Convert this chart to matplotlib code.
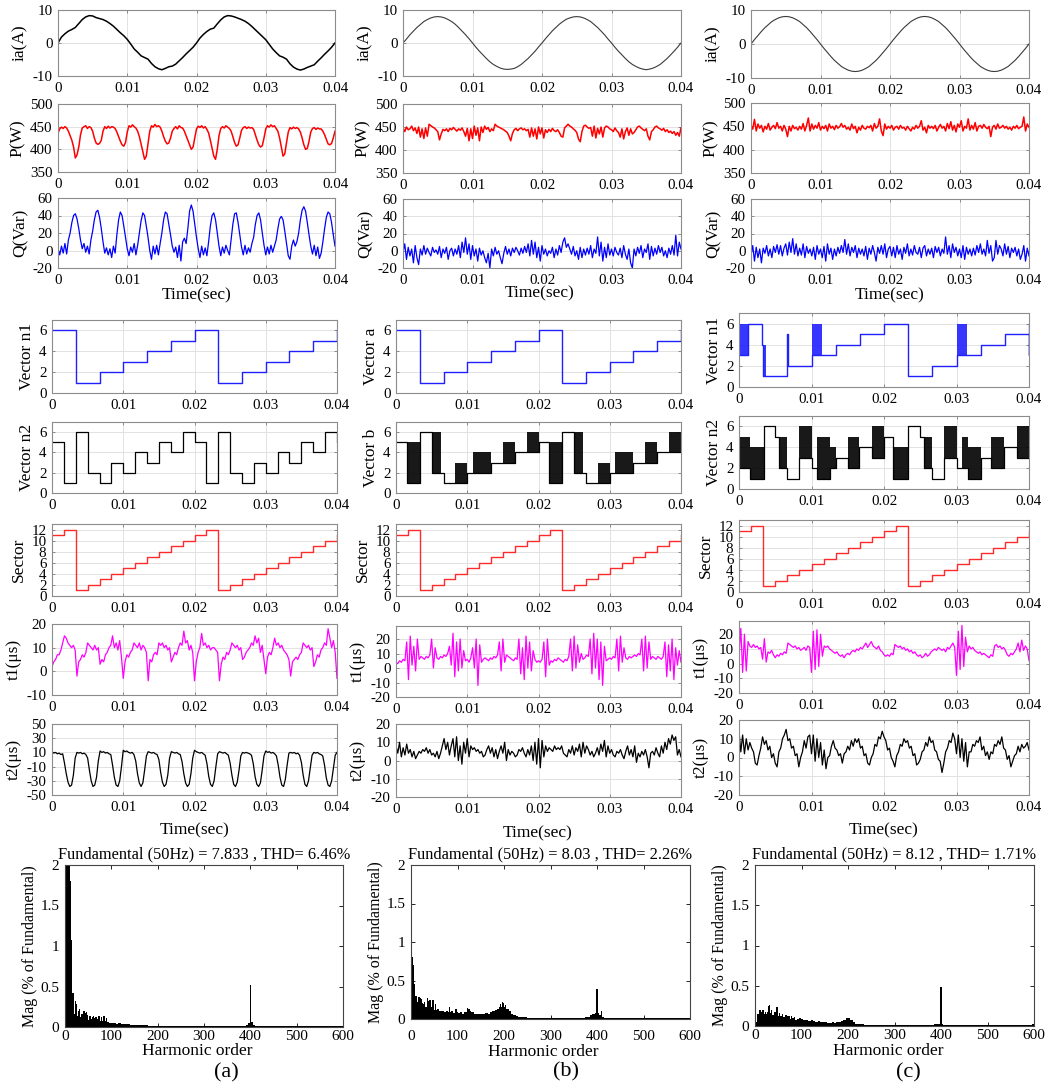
import numpy as np
import matplotlib
matplotlib.use("Agg")
import matplotlib.pyplot as plt

plt.rcParams["font.family"] = ["Liberation Serif", "DejaVu Serif"]
plt.rcParams["axes.unicode_minus"] = False

# ======================= DATA =======================
# phase current ia (A), sampled every 0.5 ms
ia_a = [0, 1.8, 2.8, 3.6, 4.1, 4.7, 5.9, 7.1, 7.9, 8.3, 8.2, 7.7, 7.4, 7.1, 6.6, 5.9, 5.1, 4.1, 3.1, 2.2,
        1.1, -0.3, -1.8, -2.8, -3.9, -4.4, -4.9, -6.2, -7.2, -7.8, -8.1, -7.7, -7.2, -7.0, -6.4, -5.4, -4.4, -3.3, -2.3, -1.3,
        0.0, 1.5, 2.6, 3.5, 4.2, 4.5, 5.8, 7.0, 7.9, 8.3, 8.2, 7.9, 7.5, 7.1, 6.6, 5.9, 5.0, 4.0, 3.0, 2.0,
        1.0, -0.4, -1.8, -2.9, -3.9, -4.3, -4.9, -6.3, -7.3, -7.9, -8.2, -7.9, -7.4, -7.0, -6.6, -5.5, -4.5, -3.4, -2.4, -1.3,
        0.0]
ia_b = [0, 1.2, 2.5, 3.6, 4.7, 5.6, 6.5, 7.1, 7.6, 7.9, 8.0, 7.9, 7.6, 7.1, 6.5, 5.7, 4.7, 3.6, 2.5, 1.3,
        0.0, -1.3, -2.5, -3.6, -4.7, -5.7, -6.5, -7.1, -7.6, -7.9, -8.0, -7.9, -7.7, -7.2, -6.5, -5.6, -4.7, -3.6, -2.5, -1.2,
        0.0, 1.3, 2.5, 3.7, 4.7, 5.7, 6.5, 7.2, 7.6, 7.9, 8.0, 7.9, 7.6, 7.1, 6.5, 5.6, 4.7, 3.6, 2.5, 1.2,
        0.0, -1.3, -2.5, -3.6, -4.7, -5.7, -6.5, -7.1, -7.6, -7.9, -8.1, -7.9, -7.6, -7.1, -6.5, -5.6, -4.7, -3.6, -2.5, -1.3,
        0.0]
ia_c = [0, 1.3, 2.5, 3.7, 4.8, 5.7, 6.6, 7.2, 7.7, 8.0, 8.1, 8.0, 7.7, 7.2, 6.6, 5.7, 4.8, 3.7, 2.5, 1.3,
        0.0, -1.3, -2.5, -3.7, -4.8, -5.7, -6.6, -7.2, -7.7, -8.0, -8.1, -8.0, -7.7, -7.2, -6.6, -5.7, -4.8, -3.7, -2.5, -1.3,
        0.0, 1.3, 2.5, 3.7, 4.8, 5.7, 6.6, 7.2, 7.7, 8.0, 8.1, 8.0, 7.7, 7.2, 6.6, 5.7, 4.8, 3.7, 2.5, 1.3,
        0.0, -1.3, -2.5, -3.7, -4.8, -5.7, -6.6, -7.2, -7.7, -8.0, -8.1, -8.0, -7.7, -7.2, -6.6, -5.7, -4.8, -3.7, -2.5, -1.3,
        0.0]

# active power P (W), every 0.25 ms
p_a = [436, 445, 449, 446, 450, 447, 440, 430, 420, 405, 381, 388, 405, 432, 447, 450, 452, 446, 450, 448,
       440, 425, 414, 411, 413, 420, 440, 450, 446, 451, 447, 450, 449, 446, 438, 428, 418, 410, 407, 415,
       438, 452, 449, 454, 450, 447, 440, 428, 412, 395, 378, 385, 412, 440, 452, 449, 455, 450, 452, 449,
       440, 428, 418, 412, 414, 425, 440, 446, 450, 445, 452, 448, 447, 440, 430, 420, 410, 400, 405, 425,
       445, 451, 448, 452, 447, 450, 444, 436, 420, 402, 385, 378, 400, 430, 446, 450, 447, 452, 449, 446,
       440, 428, 415, 407, 410, 425, 442, 448, 450, 446, 449, 447, 448, 444, 432, 420, 410, 405, 408, 425,
       445, 452, 449, 454, 450, 452, 446, 440, 425, 405, 385, 390, 415, 438, 448, 445, 449, 446, 448, 445,
       438, 425, 410, 400, 402, 418, 438, 446, 448, 444, 447, 445, 445, 440, 432, 422, 412, 410, 413, 425,
       440]
p_b = [448, 440, 450, 444, 446, 452, 442, 448, 436, 450, 428, 446, 425, 448, 430, 456, 453, 450, 448, 444,
       440, 422, 435, 445, 442, 446, 440, 447, 444, 449, 445, 441, 446, 443, 448, 440, 430, 447, 420, 446,
       425, 452, 432, 448, 420, 450, 438, 452, 445, 449, 440, 446, 442, 456, 452, 450, 448, 446, 444, 441,
       438, 430, 420, 436, 444, 447, 442, 446, 448, 444, 446, 442, 445, 428, 448, 430, 446, 424, 450, 435,
       448, 426, 444, 438, 445, 440, 447, 442, 440, 444, 438, 430, 428, 448, 452, 456, 452, 450, 446, 443,
       438, 424, 418, 440, 452, 454, 450, 447, 449, 430, 452, 426, 447, 435, 450, 428, 448, 452, 450, 446,
       444, 440, 448, 442, 438, 428, 446, 424, 440, 448, 432, 446, 435, 438, 444, 450, 452, 448, 445, 442,
       446, 430, 422, 440, 444, 450, 452, 448, 446, 443, 447, 440, 444, 438, 441, 436, 440, 432, 438, 430,
       448]
p_c = [452, 444, 465, 440, 455, 446, 452, 438, 450, 444, 456, 442, 448, 452, 445, 458, 446, 450, 440, 452,
       444, 428, 450, 440, 452, 445, 448, 442, 450, 444, 456, 440, 452, 468, 440, 455, 444, 452, 446, 458,
       442, 450, 445, 452, 440, 455, 446, 450, 443, 452, 446, 449, 456, 448, 452, 444, 448, 442, 455, 445,
       450, 436, 448, 442, 452, 446, 444, 450, 447, 452, 440, 456, 446, 450, 466, 440, 430, 455, 444, 450,
       446, 452, 442, 448, 450, 444, 452, 446, 448, 442, 450, 445, 440, 448, 444, 452, 446, 450, 462, 442,
       448, 436, 452, 446, 450, 445, 452, 440, 448, 454, 446, 450, 440, 456, 445, 460, 442, 452, 438, 455,
       448, 462, 440, 450, 446, 466, 442, 452, 444, 458, 440, 450, 452, 446, 454, 448, 445, 450, 428, 448,
       452, 444, 455, 446, 448, 452, 446, 450, 444, 448, 442, 450, 446, 452, 445, 448, 450, 470, 440, 455,
       448]

# reactive power Q (Var), every 0.25 ms
q_a = [2, -5, 5, -3, 8, -4, 12, 20, 32, 40, 42, 36, 25, 12, 2, 8, -2, 5, -4, 12,
       22, 35, 44, 46, 38, 25, 10, -3, 3, -5, 2, -8, 5, -3, 18, 35, 44, 40, 28, 15,
       2, -6, 4, -2, 8, -5, 6, 20, 34, 43, 40, 28, 15, 0, -10, 5, -4, 6, -5, 8,
       20, 35, 44, 42, 30, 18, 5, -2, 4, -8, 6, -12, 10, 14, 8, 25, 45, 52, 45, 30,
       15, 2, -8, 5, -5, 3, -6, 10, 28, 40, 43, 35, 20, 5, -6, 4, -3, 6, 0, -5,
       12, 30, 42, 43, 32, 18, 4, -5, 6, -4, 3, -2, 8, 15, 30, 40, 43, 35, 20, 6,
       -5, 4, -4, 6, -2, 5, 12, 25, 36, 39, 35, 22, 8, -6, -10, 5, 12, 5, 10, 20,
       35, 46, 50, 45, 32, 18, 5, -4, 6, -6, 4, -9, -3, 10, 25, 38, 44, 42, 32, 18,
       5]
q_b = [-2, 8, -10, 4, -6, 2, -14, 6, -8, -16, 2, -5, 6, -4, 3, -2, -6, 4, -2, 1,
       -4, 5, -8, 2, -3, 4, -10, 0, 3, -6, 2, -4, 6, -8, 10, -2, 15, -4, 8, -10,
       6, -6, 2, -12, 3, -5, 0, -8, -14, -3, -20, 2, -6, 4, -4, 0, -8, -15, -3, 5,
       -4, 2, -6, 3, -2, 4, 0, -5, 3, -3, 5, -2, 8, -6, 12, -4, 10, -8, 4, -12,
       6, -4, 2, -6, 0, -3, 4, -8, 2, -5, 6, -2, 10, 15, 4, 8, 2, -4, 5, -6,
       0, -10, 4, -8, 2, -5, 3, -4, 6, -8, 2, -3, 16, -6, 10, -12, 4, -8, 8, -5,
       2, -6, 4, -2, -5, 3, -8, 6, -4, -10, 2, -14, -20, 2, -6, 4, -3, 6, -8, 2,
       -2, 8, -10, 5, -6, 3, -4, 6, -2, 4, -6, 0, -8, 3, -4, 6, -5, 18, -6, 10,
       2]
q_c = [-5, 6, -12, 4, -8, 2, -14, 3, -3, 6, -6, 2, -8, 5, -2, 7, -4, 6, -6, 3,
       8, -5, 10, -2, 14, -4, 8, -6, 3, -5, 8, -8, 5, -3, 2, -6, 4, -10, 6, -4,
       2, -8, 5, -12, 8, -4, 3, -10, 2, -6, 4, -3, 6, -2, 13, -4, 8, -6, 4, -2,
       6, -8, 3, -4, 2, -6, 5, -10, 3, -4, 6, -2, -12, 4, -3, 6, -4, 8, -8, 2,
       5, -6, 4, -8, 6, -4, 2, -10, 4, -3, 8, -6, 2, -5, 6, -2, -4, 4, -8, 3,
       6, -6, 2, -4, 3, -8, 5, -2, 4, -6, 2, -3, 16, -4, 6, -8, 8, -2, 4, -6,
       2, -8, 6, -10, 4, -4, 2, -6, 3, -5, 6, -2, 8, -4, 2, -6, 12, -3, 6, -12,
       -8, 12, -4, 6, 2, -6, 8, -4, 5, -8, 3, -2, 4, -6, 2, -10, -4, 6, -12, 3,
       -6]

# switching vectors / sectors: segment edges (ms), lower and upper level of each segment
vec1_a_ms = [0, 3.33, 6.67, 10, 13.33, 16.67, 20, 23.33, 26.67, 30, 33.33, 36.67, 40, 40]
vec1_a_lo = [6, 1, 2, 3, 4, 5, 6, 1, 2, 3, 4, 5, 6]
vec1_a_hi = [6, 1, 2, 3, 4, 5, 6, 1, 2, 3, 4, 5, 6]
vec2_a_ms = [0, 1.67, 3.33, 5, 6.67, 8.33, 10, 11.67, 13.33, 15, 16.67, 18.33, 20,
             21.67, 23.33, 25, 26.67, 28.33, 30, 31.67, 33.33, 35, 36.67, 38.33, 40, 40]
vec2_a_lo = [5, 1, 6, 2, 1, 3, 2, 4, 3, 5, 4, 6, 5, 1, 6, 2, 1, 3, 2, 4, 3, 5, 4, 6, 5]
vec2_a_hi = [5, 1, 6, 2, 1, 3, 2, 4, 3, 5, 4, 6, 5, 1, 6, 2, 1, 3, 2, 4, 3, 5, 4, 6, 5]

vec1_b_ms = [0, 3.33, 6.67, 10, 13.33, 16.67, 20, 23.33, 26.67, 30, 33.33, 36.67, 40, 40]
vec1_b_lo = [6, 1, 2, 3, 4, 5, 6, 1, 2, 3, 4, 5, 6]
vec1_b_hi = [6, 1, 2, 3, 4, 5, 6, 1, 2, 3, 4, 5, 6]
vec2_b_ms = [0, 1.5, 3.33, 5, 6.3, 6.67, 8.33, 10, 10.8, 13.33, 15, 16.67, 18.33, 20,
             21.5, 23.33, 25, 26.3, 26.67, 28.33, 30, 30.8, 33.33, 35, 36.67, 38.33, 40]
vec2_b_lo = [5, 1, 6, 2, 2, 1, 1, 2, 2, 3, 3, 4, 4, 5, 1, 6, 2, 2, 1, 1, 2, 2, 3, 3, 4, 4]
vec2_b_hi = [5, 5, 6, 6, 2, 1, 3, 2, 4, 3, 5, 4, 6, 5, 5, 6, 6, 2, 1, 3, 2, 4, 3, 5, 4, 6]

vec1_c_ms = [0, 1.2, 3.2, 3.35, 3.7, 6.67, 6.75, 10, 11.5, 13.33, 16.67, 20, 23.33, 26.67,
             30, 31.5, 33.33, 36.67, 40, 40, 40]
vec1_c_lo = [3, 6, 4, 1, 1, 5, 2, 3, 3, 4, 5, 6, 1, 2, 3, 3, 4, 5, 3, 6]
vec1_c_hi = [6, 6, 4, 4, 1, 5, 2, 6, 3, 4, 5, 6, 1, 2, 6, 3, 4, 5, 3, 6]
vec2_c_ms = [0, 1.5, 3.4, 5, 5.5, 6.67, 8.33, 10, 10.8, 12.5, 13.33, 15, 16.5, 18.33, 20,
             21.3, 23.33, 25, 25.5, 26.67, 28.33, 30, 30.8, 31.6, 33.33, 34.8, 36.5, 38.33, 40]
vec2_c_lo = [2, 1, 6, 5, 2, 1, 3, 2, 1, 2, 3, 2, 4, 3, 5, 1, 6, 5, 2, 1, 3, 2, 2, 1, 3, 2, 4, 3]
vec2_c_hi = [5, 4, 6, 5, 5, 1, 6, 2, 5, 4, 3, 5, 4, 6, 5, 4, 6, 5, 5, 1, 6, 2, 5, 4, 3, 5, 4, 6]

sector_ms = [0, 1.67, 3.33, 5, 6.67, 8.33, 10, 11.67, 13.33, 15, 16.67, 18.33, 20,
             21.67, 23.33, 25, 26.67, 28.33, 30, 31.67, 33.33, 35, 36.67, 38.33, 40, 40]
sector_lv = [11, 12, 1, 2, 3, 4, 5, 6, 7, 8, 9, 10, 11, 12, 1, 2, 3, 4, 5, 6, 7, 8, 9, 10, 11]

# dwell times t1, t2 (us), every 0.25 ms
t1_a = [2, 4, 5, 7, 7, 9, 12, 15, 14, 12, 11, 10, 11, 9, -2, 4, 5, 7, 6, 8,
        12, 11, 10, 9, 11, 9, 10, 3, 5, 4, 7, 8, 10, 11, 15, 10, 12, 9, 13, 6,
        -3, 4, 7, 6, 8, 9, 12, 11, 10, 12, 9, 11, 10, 8, -4, 5, 4, 7, 8, 7,
        12, 11, 12, 10, 11, 9, 10, 4, 6, 8, 7, 10, 12, 11, 17, 12, 13, 9, 11, 8,
        -4, 4, 8, 10, 16, 11, 12, 10, 11, 9, 10, 10, 9, 8, -4, 3, 6, 5, 8, 7,
        9, 12, 11, 10, 11, 9, 10, 5, 6, 8, 9, 10, 12, 11, 15, 12, 14, 8, 11, 5,
        -1, 6, 8, 7, 10, 14, 11, 12, 10, 11, 9, 8, 7, 5, -2, 4, 5, 6, 5, 7,
        8, 12, 11, 10, 11, 9, 10, 2, 4, 7, 6, 9, 10, 12, 11, 18, 14, 10, 13, 8,
        -3]
t1_b = [4, 3, 5, 4, 6, 5, 18, -8, 22, 2, 15, -2, 20, 6, 8, 7, 6, 8, 7, 9,
        20, 0, 14, 7, 6, 8, 7, 9, 8, 10, 15, 2, 24, -6, 18, -2, 20, 0, 12, 5,
        6, 4, 7, 14, 0, 20, -12, 16, 4, 6, 7, 6, 5, 7, 6, 8, 7, 9, 18, -2,
        20, 4, 9, 8, 7, 6, 5, 7, 6, 20, -4, 14, -8, 22, 0, 18, -2, 12, 6, 4,
        5, 4, 6, 18, -6, 20, 2, 5, 4, 6, 5, 7, 6, 5, 4, 6, 5, 8, 20, -2,
        22, 0, 16, 4, 10, 6, 7, 9, 8, 20, -4, 24, 0, 20, -8, 18, -12, 15, 5, 6,
        7, 6, 8, 7, 20, -2, 22, 4, 14, 7, 6, 8, 7, 8, 9, 8, 10, 9, 20, -2,
        22, 0, 18, 6, 8, 7, 6, 8, 7, 6, 8, 18, -6, 16, -2, 20, -8, 14, 2, 12,
        4]
t1_c = [5, 24, -6, 20, -5, 15, 12, 11, 13, 11, 12, 10, 11, 3, 17, 1, 8, 7, 9, 6,
        4, 6, 5, 7, 6, 8, 7, 14, 13, 12, 11, 12, 10, 11, 9, 10, 11, 9, 12, 11,
        -6, 22, -4, 23, -2, 20, 5, 12, 11, 12, 10, 9, 8, 7, 8, 6, 5, 6, 4, 6,
        7, 6, 8, 9, 8, 10, 9, 11, 10, 12, 14, 11, 13, 15, 12, 11, 10, 12, 9, 8,
        6, 5, 6, 5, 7, 6, 13, 12, 11, 12, 10, 11, 9, 10, 8, 9, 7, 8, 6, 5,
        6, 4, 5, 7, 5, 6, 8, 9, 10, 9, 11, 10, 9, 10, 8, 11, 10, 12, 14, 11,
        -8, 22, -4, 26, -2, 18, 8, 12, 10, 11, 9, 8, 7, 8, 6, 7, 6, 5, 4, 6,
        5, 12, 13, 11, 12, 10, 11, 9, 6, 5, 7, 6, 8, 10, 14, 8, 16, 9, 12, 10,
        2]
t2_a = [11, 9, 10, 8, 9, 7, 8, -5, -20, -32, -38, -36, -22, 2, 10, 9, 10, 8, 9, 7,
        2, -15, -30, -38, -36, -25, -2, 12, 10, 11, 9, 10, 8, 7, -8, -25, -36, -38, -30, -10,
        13, 11, 12, 10, 9, 10, 7, -2, -20, -33, -38, -33, -15, 5, 11, 10, 9, 10, 8, 7,
        0, -18, -32, -38, -35, -22, 2, 11, 10, 9, 10, 8, 7, -3, -20, -33, -38, -35, -20, 2,
        13, 11, 10, 9, 10, 8, 6, -6, -24, -35, -38, -30, -10, 8, 11, 10, 9, 10, 8, 6,
        -5, -22, -35, -38, -32, -15, 5, 10, 9, 10, 9, 8, 6, -6, -24, -35, -38, -33, -15, 5,
        12, 10, 11, 9, 10, 8, 5, -8, -25, -36, -38, -28, -8, 9, 10, 9, 10, 8, 9, 6,
        -4, -22, -35, -38, -30, -12, 6, 10, 9, 10, 8, 7, 5, -8, -26, -36, -38, -30, -12, 6,
        10]
t2_b = [8, 4, 10, 2, 7, 3, 9, 4, 6, 2, 5, 1, 3, 5, 4, 6, 5, 7, 4, 6,
        3, 4, 2, 5, 1, 4, 8, 12, 6, 10, 3, 8, 12, 2, 13, 0, 8, -2, 10, 4,
        12, 2, 8, 6, 7, 5, 6, 4, 5, 2, 3, 6, 8, 4, 7, 2, 6, 1, 5, 8,
        4, 10, 0, 6, 3, 5, 4, 2, 3, 6, 5, 7, 4, 2, 6, 3, 8, 0, 10, -2,
        12, -4, 11, 2, 8, 5, 7, 6, 5, 8, 6, 7, 6, 8, 4, 3, 2, 6, 4, 8,
        3, 7, 5, 9, 2, 10, 4, 8, 6, 3, 5, 2, 4, 7, 3, 9, 5, 11, 2, 8,
        4, 6, 3, 2, 5, 4, 6, 3, 1, 5, 8, 3, 6, 2, 8, -1, 4, 2, 5, 3,
        6, 2, -4, 4, 5, 3, 7, 4, 2, 8, 4, 10, 6, 12, 9, 14, 11, 13, 3, 6,
        2]
t2_c = [14, 3, 12, 2, 10, 4, 8, 5, 3, -3, -4, 1, 5, 11, 7, 9, 4, 6, 0, 2,
        -3, -5, 3, 5, 10, 12, 15, 9, 10, 5, 6, 1, 2, -5, 0, 3, 9, 5, 11, 12,
        2, 12, -2, 10, 0, 8, -4, 4, -6, 0, 1, 6, 9, 5, 4, 1, 2, -3, 2, 3,
        6, 4, 9, 6, 10, 8, 10, 5, 6, 1, 2, -3, -4, 0, 2, 7, 6, 11, 10, 14,
        11, 9, 4, 5, 0, -2, -5, 1, 3, 7, 6, 10, 8, 9, 5, 6, 1, 2, -4, -3,
        -1, 3, 4, 8, 6, 11, 8, 9, 4, 3, -1, -2, -8, -3, 3, 5, 9, 8, 13, 10,
        2, 12, 0, 10, -2, 8, -5, 3, 3, 7, 6, 9, 8, 11, 4, 6, 1, 3, -1, 3,
        2, 7, 6, 9, 7, 11, 5, 4, -1, 1, -5, -2, 1, 2, 6, 3, 7, 5, 6, 8,
        4]

# harmonic spectra (% of fundamental): background per 5-harmonic bin + individual lines
spec_floor_a = [2.1, 2.1, 0.22, 0.2, 0.16, 0.14, 0.12, 0.11, 0.12, 0.1, 0.09, 0.1, 0.08, 0.09, 0.07, 0.08, 0.07, 0.08, 0.06, 0.05,
                0.05, 0.05, 0.04, 0.05, 0.04, 0.04, 0.035, 0.04, 0.03, 0.03, 0.03, 0.025, 0.03, 0.02, 0.02, 0.02, 0.018, 0.015, 0.015, 0.015,
                0.015, 0.012, 0.012, 0.01, 0.012, 0.01, 0.01, 0.01, 0.01, 0.01, 0.01, 0.01, 0.01, 0.01, 0.01, 0.01, 0.01, 0.01, 0.01, 0.01,
                0.01, 0.01, 0.01, 0.01, 0.01, 0.01, 0.01, 0.01, 0.01, 0.01, 0.01, 0.01, 0.01, 0.01, 0.01, 0.01, 0.01, 0.012, 0.03, 0.05,
                0.06, 0.02, 0.012, 0.01, 0.01, 0.01, 0.01, 0.01, 0.01, 0.01, 0.01, 0.01, 0.01, 0.01, 0.01, 0.01, 0.01, 0.01, 0.01, 0.01,
                0.01, 0.01, 0.01, 0.01, 0.01, 0.01, 0.01, 0.01, 0.01, 0.01, 0.01, 0.01, 0.01, 0.01, 0.01, 0.01, 0.01, 0.01, 0.01, 0.01]
spec_line_h_a = [1, 5, 7, 11, 13, 17, 19, 23, 25, 29, 31, 35, 37, 41, 43, 47, 49, 53, 55, 59, 61, 65, 67, 71, 73, 79, 83, 85, 89, 400]
spec_line_m_a = [100, 2.6, 2.3, 1.8, 1.08, 0.42, 0.4, 0.32, 0.28, 0.2, 0.22, 0.15, 0.16, 0.2, 0.17, 0.18, 0.15, 0.13, 0.14, 0.12,
                 0.14, 0.11, 0.12, 0.1, 0.13, 0.12, 0.13, 0.14, 0.11, 0.52]
spec_floor_b = [0.4, 0.25, 0.2, 0.22, 0.18, 0.2, 0.15, 0.2, 0.15, 0.18, 0.12, 0.13, 0.1, 0.1, 0.09, 0.1, 0.09, 0.1, 0.08, 0.09,
                0.08, 0.09, 0.07, 0.09, 0.08, 0.1, 0.09, 0.07, 0.06, 0.07, 0.06, 0.07, 0.08, 0.07, 0.09, 0.1, 0.12, 0.13, 0.15, 0.17,
                0.16, 0.13, 0.1, 0.07, 0.05, 0.04, 0.03, 0.025, 0.02, 0.02, 0.015, 0.015, 0.012, 0.012, 0.012, 0.012, 0.012, 0.012, 0.012, 0.012,
                0.012, 0.012, 0.012, 0.012, 0.012, 0.012, 0.012, 0.012, 0.012, 0.012, 0.012, 0.012, 0.012, 0.012, 0.012, 0.02, 0.03, 0.05, 0.07, 0.08,
                0.08, 0.05, 0.02, 0.012, 0.012, 0.012, 0.012, 0.012, 0.012, 0.012, 0.012, 0.012, 0.012, 0.012, 0.012, 0.012, 0.012, 0.012, 0.012, 0.012,
                0.012, 0.012, 0.012, 0.012, 0.012, 0.012, 0.012, 0.012, 0.012, 0.012, 0.012, 0.012, 0.012, 0.012, 0.012, 0.012, 0.012, 0.012, 0.015, 0.015]
spec_line_h_b = [1, 3, 5, 7, 11, 13, 17, 19, 23, 25, 29, 35, 37, 41, 47, 49, 53, 83, 97, 121, 125, 193, 197, 199, 203, 400, 410]
spec_line_m_b = [100, 0.8, 0.7, 0.45, 0.3, 0.22, 0.28, 0.27, 0.26, 0.21, 0.22, 0.27, 0.24, 0.25, 0.25, 0.22, 0.2, 0.15, 0.13, 0.14,
                 0.13, 0.2, 0.22, 0.21, 0.18, 0.39, 0.1]
spec_floor_c = [0.05, 0.15, 0.16, 0.18, 0.15, 0.17, 0.16, 0.14, 0.15, 0.16, 0.12, 0.13, 0.11, 0.12, 0.1, 0.09, 0.1, 0.08, 0.09, 0.08,
                0.07, 0.08, 0.07, 0.06, 0.07, 0.06, 0.05, 0.06, 0.05, 0.05, 0.05, 0.04, 0.04, 0.05, 0.04, 0.05, 0.05, 0.06, 0.08, 0.1,
                0.1, 0.08, 0.05, 0.03, 0.025, 0.02, 0.02, 0.018, 0.015, 0.015, 0.012, 0.012, 0.012, 0.012, 0.012, 0.012, 0.012, 0.012, 0.012, 0.012,
                0.015, 0.012, 0.012, 0.012, 0.012, 0.012, 0.012, 0.012, 0.012, 0.012, 0.012, 0.012, 0.012, 0.012, 0.012, 0.012, 0.015, 0.02, 0.025, 0.03,
                0.03, 0.015, 0.012, 0.012, 0.012, 0.012, 0.012, 0.012, 0.012, 0.012, 0.012, 0.012, 0.012, 0.012, 0.012, 0.012, 0.012, 0.012, 0.012, 0.012,
                0.012, 0.012, 0.012, 0.012, 0.012, 0.012, 0.012, 0.012, 0.012, 0.012, 0.012, 0.012, 0.012, 0.012, 0.012, 0.012, 0.012, 0.012, 0.015, 0.03]
spec_line_h_c = [1, 11, 13, 17, 23, 29, 31, 35, 43, 47, 49, 53, 59, 67, 73, 79, 85, 97, 101, 400]
spec_line_m_c = [100, 0.2, 0.18, 0.2, 0.18, 0.25, 0.26, 0.2, 0.17, 0.23, 0.2, 0.16, 0.15, 0.14, 0.12, 0.13, 0.11, 0.1, 0.09, 0.49]

spec_titles = ["Fundamental (50Hz) = 7.833 , THD= 6.46%",
               "Fundamental (50Hz) = 8.03 , THD= 2.26%",
               "Fundamental (50Hz) = 8.12 , THD= 1.71%"]
vec_labels = [("Vector n1", "Vector n2"), ("Vector a", "Vector b"), ("Vector n1", "Vector n2")]
panel_tags = ["(a)", "(b)", "(c)"]
time_ticks = [0, 0.01, 0.02, 0.03, 0.04]
time_tick_labels = ["0", "0.01", "0.02", "0.03", "0.04"]
harm_ticks = [0, 100, 200, 300, 400, 500, 600]
mag_ticks = [0, 0.5, 1, 1.5, 2]
mag_tick_labels = ["0", "0.5", "1", "1.5", "2"]

# ======================= LAYOUT (pixels) =======================
W, H = 1050, 1089
fig = plt.figure(figsize=(W / 100, H / 100), dpi=100)

layout = {
    0: dict(x_top=(58, 335), x_bot=(52, 337), x_h=(65, 343),
            ia=(10, 76), P=(104, 172), Q=(198, 268), v1=(320, 393), v2=(422, 493),
            sec=(524, 596), t1=(624, 695), t2=(724, 795), hm=(865, 1027),
            time1=(197, 295), time2=(195, 830), horder=(197, 1051), hpad=2, tag=(226, 1073)),
    1: dict(x_top=(403, 681), x_bot=(396, 681), x_h=(411, 690),
            ia=(10, 76), P=(104, 173), Q=(199, 268), v1=(320, 393), v2=(422, 493),
            sec=(524, 596), t1=(626, 697), t2=(724, 797), hm=(865, 1019),
            time1=(540, 293), time2=(538, 833), horder=(543, 1052), hpad=8, tag=(566, 1072)),
    2: dict(x_top=(751, 1029), x_bot=(739, 1029), x_h=(755, 1034),
            ia=(10, 78), P=(103, 173), Q=(199, 268), v1=(313, 387), v2=(416, 489),
            sec=(520, 592), t1=(621, 693), t2=(720, 795), hm=(865, 1026),
            time1=(890, 295), time2=(884, 830), horder=(888, 1051), hpad=2, tag=(908, 1073)),
}


def add_ax(xr, yr):
    l, r = xr
    t, b = yr
    return fig.add_axes([l / W, 1 - b / H, (r - l) / W, (b - t) / H])


def style_time(ax, ylim, yticks, ylabel):
    ax.set_xlim(0, 0.04)
    ax.set_ylim(*ylim)
    ax.set_xticks(time_ticks)
    ax.set_xticklabels(time_tick_labels)
    ax.set_yticks(yticks)
    ax.set_yticklabels([str(v) for v in yticks])
    ax.grid(True, color="#e2e2e2", lw=0.7)
    ax.set_axisbelow(True)
    ax.tick_params(direction="in", length=2.5, width=0.5, top=True, right=True,
                   labelsize=10.8, color="#666666")
    ax.tick_params(axis="x", pad=4)
    ax.tick_params(axis="y", pad=4)
    for s in ax.spines.values():
        s.set_color("#8c8c8c")
        s.set_linewidth(0.8)
    ax.set_ylabel(ylabel, fontsize=12.5, labelpad=3)


def plot_series(ax, vals, color, lw):
    y = np.asarray(vals, dtype=float)
    t = np.linspace(0, 0.04, len(y))
    ax.plot(t, y, color=color, lw=lw)


def plot_steps(ax, edges_ms, lo, hi, color, lw=1.0, alpha=0.9):
    e = np.asarray(edges_ms, dtype=float) / 1000.0
    lo = np.asarray(lo, dtype=float)
    hi = np.asarray(hi, dtype=float)
    x = np.repeat(e, 2)[1:-1]
    y = np.repeat(lo, 2)
    ax.plot(x, y, color=color, lw=lw)
    for i in range(len(lo)):
        if hi[i] != lo[i] and e[i + 1] > e[i]:
            ax.fill_between([e[i], e[i + 1]], lo[i], hi[i], color=color, lw=0, alpha=alpha)


ia_list = [ia_a, ia_b, ia_c]
p_list = [p_a, p_b, p_c]
q_list = [q_a, q_b, q_c]
t1_list = [t1_a, t1_b, t1_c]
t2_list = [t2_a, t2_b, t2_c]
v1_list = [(vec1_a_ms, vec1_a_lo, vec1_a_hi), (vec1_b_ms, vec1_b_lo, vec1_b_hi), (vec1_c_ms, vec1_c_lo, vec1_c_hi)]
v2_list = [(vec2_a_ms, vec2_a_lo, vec2_a_hi), (vec2_b_ms, vec2_b_lo, vec2_b_hi), (vec2_c_ms, vec2_c_lo, vec2_c_hi)]
spec_list = [(spec_floor_a, spec_line_h_a, spec_line_m_a), (spec_floor_b, spec_line_h_b, spec_line_m_b),
             (spec_floor_c, spec_line_h_c, spec_line_m_c)]

for c in range(3):
    L = layout[c]
    # ia
    ax = add_ax(L["x_top"], L["ia"])
    plot_series(ax, ia_list[c], "black" if c == 0 else "#3a3a3a", 1.1 if c == 0 else 0.8)
    style_time(ax, (-10, 10), [-10, 0, 10], "ia(A)")
    # P
    ax = add_ax(L["x_top"], L["P"])
    plot_series(ax, p_list[c], "#ff0000", 1.1)
    style_time(ax, (350, 500), [350, 400, 450, 500], "P(W)")
    # Q
    ax = add_ax(L["x_top"], L["Q"])
    plot_series(ax, q_list[c], "#0000ff", 0.9)
    style_time(ax, (-20, 60), [-20, 0, 20, 40, 60], "Q(Var)")
    fig.text(L["time1"][0] / W, 1 - L["time1"][1] / H, "Time(sec)", ha="center", va="center", fontsize=12.5)
    # vectors
    ax = add_ax(L["x_bot"], L["v1"])
    plot_steps(ax, *v1_list[c], color="#2020ff", lw=1.0)
    style_time(ax, (0, 7), [0, 2, 4, 6], vec_labels[c][0])
    ax = add_ax(L["x_bot"], L["v2"])
    plot_steps(ax, *v2_list[c], color="black", lw=0.9, alpha=0.9)
    style_time(ax, (0, 7), [0, 2, 4, 6], vec_labels[c][1])
    # sector
    ax = add_ax(L["x_bot"], L["sec"])
    plot_steps(ax, sector_ms, sector_lv, sector_lv, color="#ff2a2a", lw=1.0)
    style_time(ax, (0, 13), [0, 2, 4, 6, 8, 10, 12], "Sector")
    # t1
    ax = add_ax(L["x_bot"], L["t1"])
    plot_series(ax, t1_list[c], "#ff00ff", 0.9)
    if c == 0:
        style_time(ax, (-10, 20), [-10, 0, 10, 20], "t1(μs)")
    else:
        style_time(ax, (-20, 29), [-20, -10, 0, 10, 20], "t1(μs)")
    # t2
    ax = add_ax(L["x_bot"], L["t2"])
    plot_series(ax, t2_list[c], "black", 0.9)
    if c == 0:
        style_time(ax, (-50, 50), [-50, -30, -10, 10, 30, 50], "t2(μs)")
    else:
        style_time(ax, (-20, 20), [-20, -10, 0, 10, 20], "t2(μs)")
    fig.text(L["time2"][0] / W, 1 - L["time2"][1] / H, "Time(sec)", ha="center", va="center", fontsize=12.5)

    # harmonic spectrum
    floor, lh, lm = spec_list[c]
    ax = add_ax(L["x_h"], L["hm"])
    bins = np.arange(0, 600, 5)
    ax.bar(bins, floor, width=5, align="edge", color="black", lw=0)
    ax.bar(lh, lm, width=3, align="center", color="black", lw=0)
    ax.set_xlim(0, 600)
    ax.set_ylim(0, 2)
    ax.set_xticks(harm_ticks)
    ax.set_xticklabels([str(v) for v in harm_ticks])
    ax.set_yticks(mag_ticks)
    ax.set_yticklabels(mag_tick_labels)
    ax.tick_params(direction="in", length=3, width=0.6, top=True, right=True, labelsize=11)
    ax.tick_params(axis="x", pad=L["hpad"])
    ax.tick_params(axis="y", pad=4)
    for s in ax.spines.values():
        s.set_color("#444444")
        s.set_linewidth(0.8)
    ax.set_title(spec_titles[c], fontsize=11.8, pad=5)
    ax.set_ylabel("Mag (% of Fundamental)", fontsize=11.5, labelpad=2)
    fig.text(L["horder"][0] / W, 1 - L["horder"][1] / H, "Harmonic order", ha="center", va="center", fontsize=12.5)
    fig.text(L["tag"][0] / W, 1 - L["tag"][1] / H, panel_tags[c], ha="center", va="center", fontsize=16)

fig.savefig("out.png", dpi=100, facecolor="white")
